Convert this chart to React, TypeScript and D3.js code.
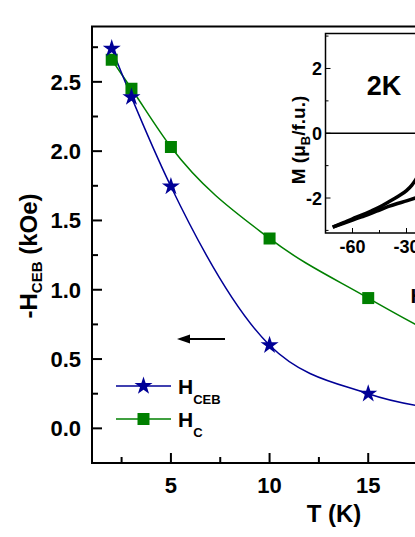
import React from "react";
import * as d3 from "d3";

// Main data
const temps = [2, 3, 5, 10, 15, 20];
const hCEB = [2.74, 2.39, 1.745, 0.6, 0.25, 0.12];
const hC = [2.66, 2.45, 2.03, 1.37, 0.94, 0.55];
const xMajorTicks = [5, 10, 15, 20];
const xMinorTicks = [2.5, 7.5, 12.5, 17.5];
const yMajorTicks = [0, 0.5, 1.0, 1.5, 2.0, 2.5];
const yMinorTicks = [0.25, 0.75, 1.25, 1.75, 2.25, 2.75];

// Inset data (2K hysteresis, visible part)
const loopUpperH = [-71, -65, -60, -55, -50, -45, -40, -35, -30, -27, -24, -20];
const loopUpperM = [-2.9, -2.76, -2.64, -2.53, -2.41, -2.28, -2.12, -1.96, -1.77, -1.6, -1.35, -0.9];
const loopLowerH = [-71, -65, -60, -55, -50, -45, -40, -35, -30, -25, -20];
const loopLowerM = [-2.9, -2.78, -2.68, -2.58, -2.48, -2.37, -2.26, -2.17, -2.09, -2.0, -1.9];
const insetXMajor = [-60, -30, 0, 30, 60];
const insetXMinor = [-45, -15, 15, 45];
const insetYMajor = [-2, 0, 2];
const insetYMinor = [-3, -1, 1, 3];

const BLUE = "#000096";
const GREEN = "#008000";
const FONT = "'Liberation Sans', Arial, sans-serif";

export default function App() {
  const W = 415, H = 537;
  const x = d3.scaleLinear().domain([1, 21]).range([92, 92 + 20 * 19.73]);
  const y = d3.scaleLinear().domain([-0.25, 2.9]).range([463, 463 - 3.15 * 138.6]);
  const left = 92, bottom = 463, top = y(2.9);

  const line = d3.line<number>().curve(d3.curveMonotoneX);
  const ceb: [number, number][] = temps.map((t, i) => [x(t), y(hCEB[i])]);
  const hc: [number, number][] = temps.map((t, i) => [x(t), y(hC[i])]);

  const star = d3.symbol().type(d3.symbolStar).size((9.5 * 9.5) / 0.8908130915292852)();
  const square = d3.symbol().type(d3.symbolSquare).size(144)();

  // inset scales
  const ix = d3.scaleLinear().domain([-75, 75]).range([325.5, 325.5 + 150 * 1.8]);
  const iy = d3.scaleLinear().domain([-3.08, 3.08]).range([233, 33.5]);
  const iLeft = ix(-75), iTop = iy(3.08), iBottom = iy(-3.08);
  const iline = d3.line<number>().curve(d3.curveMonotoneX);
  const upper: [number, number][] = loopUpperH.map((h, i) => [ix(h), iy(loopUpperM[i])]);
  const lower: [number, number][] = loopLowerH.map((h, i) => [ix(h), iy(loopLowerM[i])]);

  return (
    <svg width={W} height={H} style={{ position: "absolute", left: 0, top: 0, display: "block", background: "#fff" }} fontFamily={FONT}>
      <defs>
        <clipPath id="plotClip">
          <rect x={left} y={top} width={W - left} height={bottom - top} />
        </clipPath>
        <clipPath id="insetClip">
          <rect x={iLeft} y={iTop} width={W - iLeft} height={iBottom - iTop} />
        </clipPath>
      </defs>

      {/* main axes */}
      <line x1={left} y1={top} x2={left} y2={bottom + 1} stroke="#000" strokeWidth={2} />
      <line x1={left - 1} y1={bottom} x2={W} y2={bottom} stroke="#000" strokeWidth={2} />
      <line x1={left - 1} y1={top} x2={W} y2={top} stroke="#000" strokeWidth={2} />

      {yMajorTicks.map((v) => (
        <g key={"ym" + v}>
          <line x1={left} x2={left + 10} y1={y(v)} y2={y(v)} stroke="#000" strokeWidth={2} />
          <text x={81} y={y(v)} dy="0.36em" textAnchor="end" fontSize={22} fontWeight="bold">{v.toFixed(1)}</text>
        </g>
      ))}
      {yMinorTicks.map((v) => (
        <line key={"yn" + v} x1={left} x2={left + 6} y1={y(v)} y2={y(v)} stroke="#000" strokeWidth={2} />
      ))}
      {xMajorTicks.map((v) => (
        <g key={"xm" + v}>
          <line x1={x(v)} x2={x(v)} y1={bottom} y2={bottom - 10} stroke="#000" strokeWidth={2} />
          <text x={x(v)} y={493} textAnchor="middle" fontSize={22} fontWeight="bold">{v}</text>
        </g>
      ))}
      {xMinorTicks.map((v) => (
        <line key={"xn" + v} x1={x(v)} x2={x(v)} y1={bottom} y2={bottom - 6} stroke="#000" strokeWidth={2} />
      ))}

      {/* axis titles */}
      <text x={334} y={522} textAnchor="middle" fontSize={24} fontWeight="bold">T (K)</text>
      <text transform="translate(37,256) rotate(-90)" textAnchor="middle" fontSize={24} fontWeight="bold">
        -H<tspan fontSize={15} dy={5}>CEB</tspan><tspan dy={-5}> (kOe)</tspan>
      </text>

      {/* inset */}
      <rect x={iLeft} y={iTop} width={W - iLeft + 5} height={iBottom - iTop} fill="#fff" stroke="#000" strokeWidth={1.5} />
      <line x1={iLeft} x2={W} y1={iy(0)} y2={iy(0)} stroke="#000" strokeWidth={1.5} />
      {insetYMajor.map((v) => (
        <g key={"iym" + v}>
          <line x1={iLeft} x2={iLeft + 5} y1={iy(v)} y2={iy(v)} stroke="#000" strokeWidth={1} />
          <text x={322} y={iy(v)} dy="0.36em" textAnchor="end" fontSize={18} fontWeight="bold">{v}</text>
        </g>
      ))}
      {insetYMinor.map((v) => (
        <line key={"iyn" + v} x1={iLeft} x2={iLeft + 3} y1={iy(v)} y2={iy(v)} stroke="#000" strokeWidth={1} />
      ))}
      {insetXMajor.map((v) => (
        <g key={"ixm" + v}>
          <line x1={ix(v)} x2={ix(v)} y1={iBottom} y2={iBottom - 5} stroke="#000" strokeWidth={1} />
          <text x={ix(v)} y={253} textAnchor="middle" fontSize={18} fontWeight="bold">{v}</text>
        </g>
      ))}
      {insetXMinor.map((v) => (
        <line key={"ixn" + v} x1={ix(v)} x2={ix(v)} y1={iBottom} y2={iBottom - 3} stroke="#000" strokeWidth={1} />
      ))}
      <g clipPath="url(#insetClip)">
        <path d={iline(upper) || ""} fill="none" stroke="#000" strokeWidth={3.5} />
        <path d={iline(lower) || ""} fill="none" stroke="#000" strokeWidth={3.5} />
      </g>
      <text x={384} y={95} textAnchor="middle" fontSize={27} fontWeight="bold">2K</text>
      <text transform="translate(305,140) rotate(-90)" textAnchor="middle" fontSize={19} fontWeight="bold">
        M (μ<tspan fontSize={13} dy={5}>B</tspan><tspan dy={-5}>/f.u.)</tspan>
      </text>

      {/* data */}
      <g clipPath="url(#plotClip)">
        <path d={line(hc) || ""} fill="none" stroke={GREEN} strokeWidth={1.5} />
        <path d={line(ceb) || ""} fill="none" stroke={BLUE} strokeWidth={1.5} />
        {hc.map((p, i) => (
          <path key={"s" + i} d={square || ""} transform={`translate(${p[0]},${p[1]})`} fill={GREEN} />
        ))}
        {ceb.map((p, i) => (
          <path key={"t" + i} d={star || ""} transform={`translate(${p[0]},${p[1]})`} fill={BLUE} />
        ))}
      </g>

      {/* arrow */}
      <line x1={225} x2={186} y1={339} y2={339} stroke="#000" strokeWidth={2} />
      <path d="M177,339 L190,334.5 L190,343.5 Z" fill="#000" />

      {/* partial right label */}
      <text x={410.5} y={303} fontSize={21} fontWeight="bold">H</text>

      {/* legend */}
      <line x1={116} x2={171} y1={386} y2={386} stroke={BLUE} strokeWidth={1.5} />
      <path d={star || ""} transform="translate(143.5,386)" fill={BLUE} />
      <text x={178} y={394} fontSize={21} fontWeight="bold">
        H<tspan fontSize={13} dy={10}>CEB</tspan>
      </text>
      <line x1={116} x2={171} y1={419} y2={419} stroke={GREEN} strokeWidth={1.5} />
      <path d={square || ""} transform="translate(143.5,419)" fill={GREEN} />
      <text x={178} y={427} fontSize={21} fontWeight="bold">
        H<tspan fontSize={13} dy={10}>C</tspan>
      </text>
    </svg>
  );
}
